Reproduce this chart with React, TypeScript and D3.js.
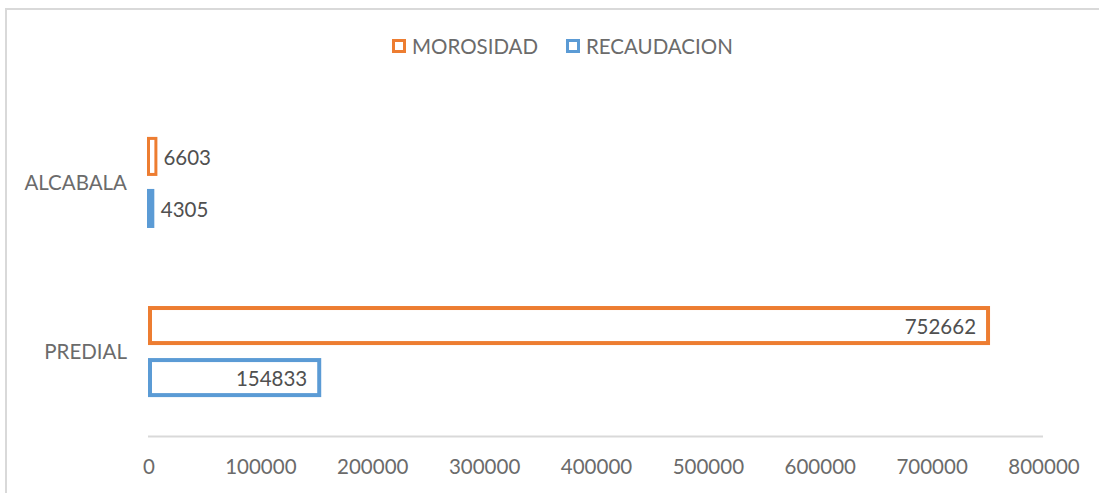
import React from "react";
import * as d3 from "d3";

const categories = ["ALCABALA", "PREDIAL"];
const seriesNames = ["MOROSIDAD", "RECAUDACION"];
const morosidad = [6603, 752662];
const recaudacion = [4305, 154833];
const xTicks = [0, 100000, 200000, 300000, 400000, 500000, 600000, 700000, 800000];

const colors: Record<string, string> = {
  MOROSIDAD: "#ED7D31",
  RECAUDACION: "#5B9BD5",
};

const W = 1099;
const H = 493;
const margin = { left: 148, right: 56, top: 98, bottom: 57 };
const FONT = "Lato, 'Open Sans', sans-serif";
const STROKE = 4;
const FS = 20.5;

export default function App() {
  const x = d3
    .scaleLinear()
    .domain([0, 800000])
    .range([margin.left, W - margin.right]);

  const y = d3
    .scaleBand()
    .domain(categories)
    .range([margin.top, H - margin.bottom])
    .paddingInner(0.4615)
    .paddingOuter(0.23);

  const inner = d3
    .scaleBand()
    .domain(seriesNames)
    .range([0, y.bandwidth()])
    .paddingInner(0.25);

  const rows = categories.map((c, i) => ({
    category: c,
    values: [
      { name: "MOROSIDAD", value: morosidad[i] },
      { name: "RECAUDACION", value: recaudacion[i] },
    ],
  }));

  const axisY = H - margin.bottom + 0.5;

  return (
    <svg
      width={W}
      height={H}
      style={{ position: "absolute", left: 0, top: 0, background: "#fff" }}
      fontFamily={FONT}
    >
      {/* chart frame */}
      <path d={`M6,${H} V9 H${W}`} fill="none" stroke="#d9d9d9" strokeWidth={2} />

      {/* legend */}
      {seriesNames.map((s, i) => {
        const lx = i === 0 ? 392 : 566;
        return (
          <g key={s} transform={`translate(${lx}, 39)`}>
            <rect x={1.5} y={1.5} width={11} height={11} fill="#fff" stroke={colors[s]} strokeWidth={3} />
            <text x={20} y={14.5} fontSize={FS} fill="#6b6b6b">
              {s}
            </text>
          </g>
        );
      })}

      {/* axis line */}
      <line x1={margin.left} x2={W - margin.right} y1={axisY} y2={axisY} stroke="#d9d9d9" strokeWidth={2} />
      {xTicks.map((t) => (
        <text key={t} x={x(t) + 1} y={474} textAnchor="middle" fontSize={FS} fill="#6b6b6b">
          {t}
        </text>
      ))}

      {rows.map((r) => (
        <g key={r.category} transform={`translate(0, ${y(r.category)})`}>
          <text
            x={127}
            y={y.bandwidth() / 2}
            dy="0.35em"
            textAnchor="end"
            fontSize={FS}
            fill="#6b6b6b"
          >
            {r.category}
          </text>
          {r.values.map((v) => {
            const by = inner(v.name)!;
            const bw = x(v.value) - x(0);
            const bh = inner.bandwidth();
            const small = bw < 40;
            let bar;
            if (bw < 6) {
              bar = <rect x={x(0) - 1} y={by} width={bw + 2.5} height={bh} fill={colors[v.name]} />;
            } else if (small) {
              bar = (
                <rect
                  x={x(0) + 0.5}
                  y={by + 1.5}
                  width={bw}
                  height={bh - 3}
                  fill="#fff"
                  stroke={colors[v.name]}
                  strokeWidth={3}
                />
              );
            } else {
              bar = (
                <rect
                  x={x(0) + STROKE / 2}
                  y={by + STROKE / 2}
                  width={bw - STROKE}
                  height={bh - STROKE}
                  fill="#fff"
                  stroke={colors[v.name]}
                  strokeWidth={STROKE}
                />
              );
            }
            return (
              <g key={v.name}>
                {bar}
                <text
                  x={small ? x(v.value) + 8 : x(v.value) - 14}
                  y={by + bh / 2 + 1}
                  dy="0.35em"
                  textAnchor={small ? "start" : "end"}
                  fontSize={FS}
                  fill="#505050"
                >
                  {v.value}
                </text>
              </g>
            );
          })}
        </g>
      ))}
    </svg>
  );
}
